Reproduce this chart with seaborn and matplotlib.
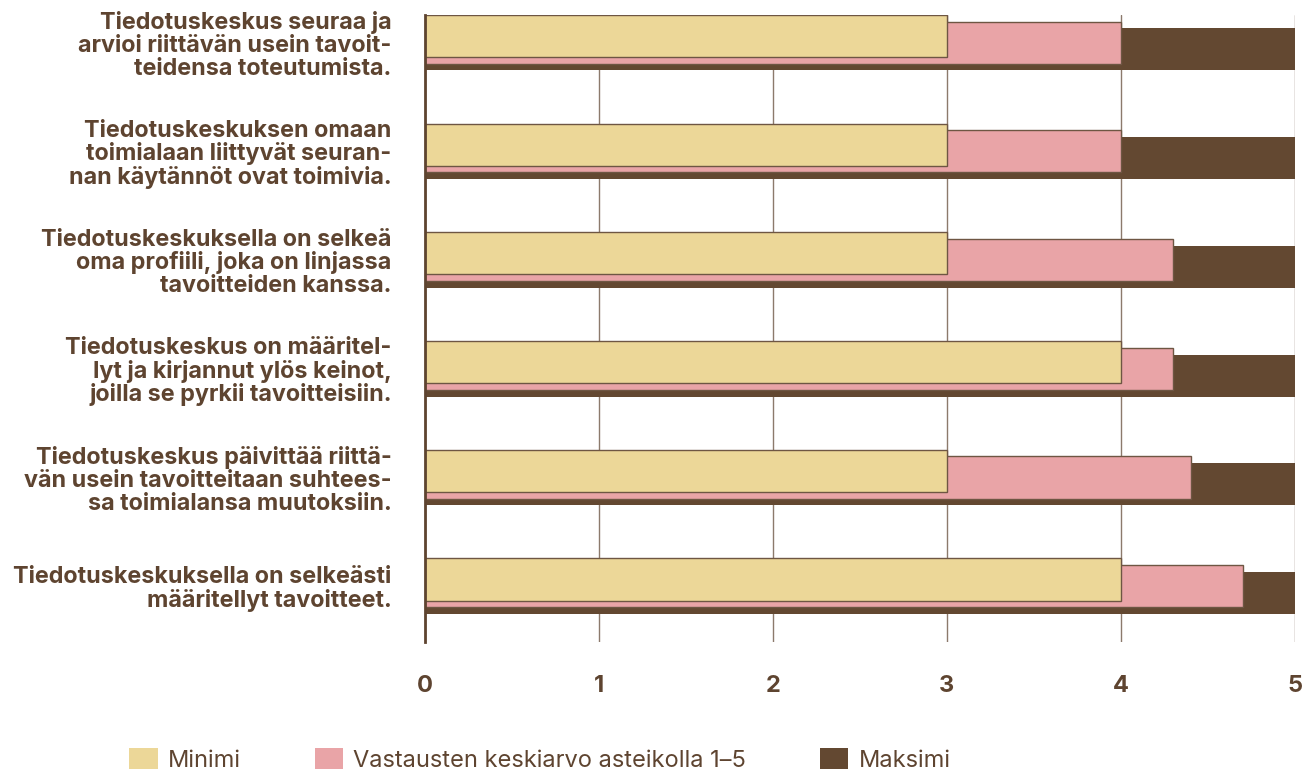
import numpy as np
import pandas as pd
import matplotlib.pyplot as plt
import seaborn as sns

labels = [
    "Tiedotuskeskus seuraa ja\narvioi riittävän usein tavoit-\nteidensa toteutumista.",
    "Tiedotuskeskuksen omaan\ntoimialaan liittyvät seuran-\nnan käytännöt ovat toimivia.",
    "Tiedotuskeskuksella on selkeä\noma profiili, joka on linjassa\ntavoitteiden kanssa.",
    "Tiedotuskeskus on määritel-\nlyt ja kirjannut ylös keinot,\njoilla se pyrkii tavoitteisiin.",
    "Tiedotuskeskus päivittää riittä-\nvän usein tavoitteitaan suhtees-\nsa toimialansa muutoksiin.",
    "Tiedotuskeskuksella on selkeästi\nmääritellyt tavoitteet.",
]
minimi = [3, 3, 3, 4, 3, 4]
keskiarvo = [4.0, 4.0, 4.3, 4.3, 4.4, 4.7]
maksimi = [5, 5, 5, 5, 5, 5]

series_names = ["Minimi", "Vastausten keskiarvo asteikolla 1–5", "Maksimi"]
colors = ["#ecd798", "#e9a4a7", "#634831"]
text_col = "#5e4430"
edge_col = "#6e5643"

df = pd.DataFrame({"label": labels, "min": minimi, "mean": keskiarvo, "max": maksimi})

sns.set_style("white")
plt.rcParams["font.family"] = ["Inter", "DejaVu Sans"]

fig = plt.figure(figsize=(13.16, 7.74), dpi=100)
ax = fig.add_axes([425 / 1316, 1 - 642 / 774, 870 / 1316, 627 / 774])

bar_h = 0.387
step = 0.062
# max at the bottom, then mean, min on top; each layer shifted down a little
layers = [("max", colors[2], 2 * step, "none", 0),
          ("mean", colors[1], step, edge_col, 1.0),
          ("min", colors[0], 0.0, edge_col, 1.0)]
for col, c, off, ec, lw in layers:
    n_before = len(ax.patches)
    sns.barplot(data=df, x=col, y="label", orient="h", color=c, width=bar_h,
                saturation=1, edgecolor=ec, linewidth=lw, ax=ax, zorder=3)
    for p in ax.patches[n_before:]:
        p.set_y(p.get_y() + off)

ax.set_xlim(0, 5)
ax.set_ylim(5 + 0.575, -0.193)
ax.set_xticks(range(6))
ax.set_yticks(np.arange(len(labels)) + step)
ax.set_yticklabels(labels, linespacing=1.04)
ax.set_xlabel("")
ax.set_ylabel("")

ax.grid(axis="x", color="#8c7a6c", linewidth=1.0, zorder=0)
ax.grid(axis="y", visible=False)
for s in ["top", "right", "bottom"]:
    ax.spines[s].set_visible(False)
ax.spines["left"].set_color(text_col)
ax.spines["left"].set_linewidth(2)
ax.spines["left"].set_zorder(4)

ax.tick_params(axis="x", length=0, pad=24, labelsize=17, labelcolor=text_col)
ax.tick_params(axis="y", length=0, pad=24, labelsize=16.8, labelcolor=text_col)
for t in ax.get_xticklabels() + ax.get_yticklabels():
    t.set_fontweight("bold")

handles = [plt.Rectangle((0, 0), 1, 1, facecolor=c, edgecolor="none") for c in colors]
fig.legend(handles, series_names, loc="lower left", bbox_to_anchor=(127 / 1316, 0.0),
           ncol=3, frameon=False, fontsize=17, labelcolor=text_col,
           borderaxespad=0, borderpad=0.1,
           handlelength=1.2, handleheight=1.0, handletextpad=0.45, columnspacing=3.1)

fig.savefig("out.png", dpi=100, facecolor="white")
